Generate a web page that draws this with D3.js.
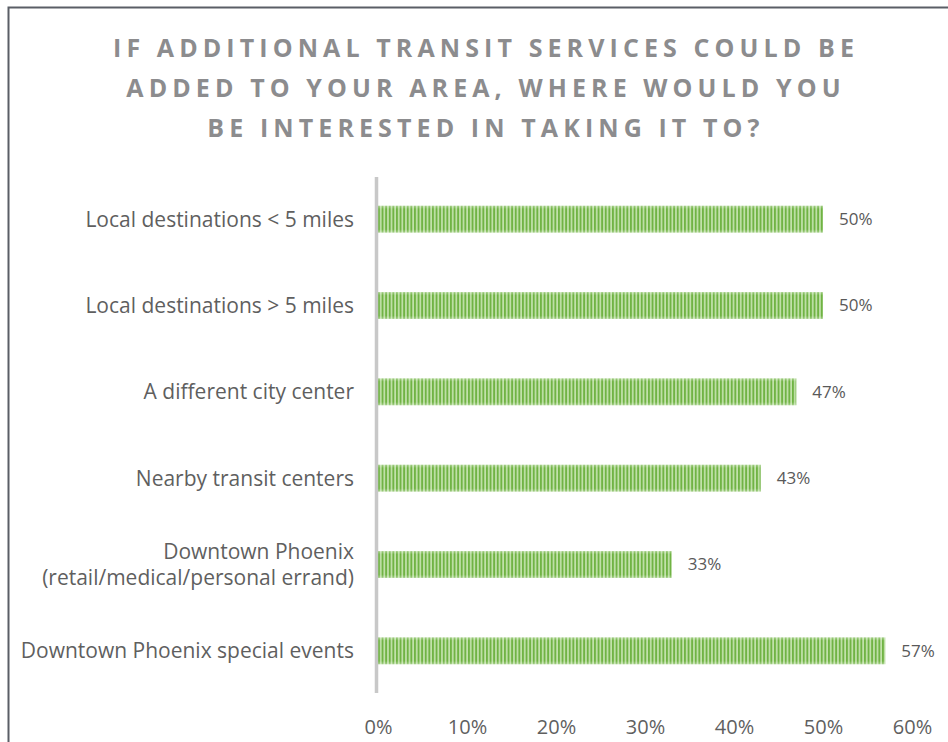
<!DOCTYPE html>
<html>
<head>
<meta charset="utf-8">
<script src="https://cdn.jsdelivr.net/npm/d3@7"></script>
<style>
  body { margin: 0; background: #fff; }
  svg { display: block; }
  text { font-family: "Open Sans", "Liberation Sans", sans-serif; }
</style>
</head>
<body>
<div id="chart"></div>
<script>
// data
const categories = [
  "Local destinations < 5 miles",
  "Local destinations > 5 miles",
  "A different city center",
  "Nearby transit centers",
  "Downtown Phoenix\n(retail/medical/personal errand)",
  "Downtown Phoenix special events"
];
const values = [50, 50, 47, 43, 33, 57];
const tickValues = [0, 10, 20, 30, 40, 50, 60];
const titleLines = [
  "IF ADDITIONAL TRANSIT SERVICES COULD BE",
  "ADDED TO YOUR AREA, WHERE WOULD YOU",
  "BE INTERESTED IN TAKING IT TO?"
];

const W = 948, H = 742;
const svg = d3.select("#chart").append("svg")
  .attr("width", W).attr("height", H);

// frame (only top and left show)
svg.append("path")
  .attr("d", "M8.5," + H + "V7.5H" + W)
  .attr("fill", "none")
  .attr("stroke", "#5a5e66")
  .attr("stroke-width", 2);

// stripe pattern for bars
const defs = svg.append("defs");
const pat = defs.append("pattern")
  .attr("id", "stripes")
  .attr("patternUnits", "userSpaceOnUse")
  .attr("width", 3.6).attr("height", 10);
pat.append("rect").attr("width", 3.6).attr("height", 10).attr("fill", "#c2e2ab");
pat.append("rect").attr("width", 1.9).attr("height", 10).attr("fill", "#70b344");

const grad = defs.append("linearGradient")
  .attr("id", "edge").attr("x1", 0).attr("x2", 0).attr("y1", 0).attr("y2", 1);
grad.append("stop").attr("offset", "0").attr("stop-color", "#fff").attr("stop-opacity", 0.35);
grad.append("stop").attr("offset", "0.12").attr("stop-color", "#fff").attr("stop-opacity", 0);
grad.append("stop").attr("offset", "0.88").attr("stop-color", "#fff").attr("stop-opacity", 0);
grad.append("stop").attr("offset", "1").attr("stop-color", "#fff").attr("stop-opacity", 0.35);

// title
svg.append("g").selectAll("text")
  .data(titleLines)
  .enter().append("text")
  .attr("x", 486)
  .attr("y", (d, i) => 57 + i * 40)
  .attr("text-anchor", "middle")
  .attr("fill", "#8c8c8e")
  .style("font-size", "25px")
  .style("font-weight", "bold")
  .style("letter-spacing", "5.1px")
  .text(d => d);

// scales
const x = d3.scaleLinear().domain([0, 60]).range([378, 912]);
const y = d3.scaleBand().domain(categories).range([176, 694]).paddingInner(0.69).paddingOuter(0.345);

// bars
svg.append("g").selectAll("rect.bar")
  .data(values)
  .enter().append("rect")
  .attr("class", "bar")
  .attr("x", x(0))
  .attr("y", (d, i) => y(categories[i]))
  .attr("width", d => x(d) - x(0))
  .attr("height", y.bandwidth())
  .attr("fill", "url(#stripes)");
svg.append("g").selectAll("rect")
  .data(values)
  .enter().append("rect")
  .attr("x", x(0))
  .attr("y", (d, i) => y(categories[i]))
  .attr("width", d => x(d) - x(0))
  .attr("height", y.bandwidth())
  .attr("fill", "url(#edge)");

// value labels
svg.append("g").selectAll("text")
  .data(values)
  .enter().append("text")
  .attr("x", d => x(d) + 16)
  .attr("y", (d, i) => y(categories[i]) + y.bandwidth() / 2)
  .attr("dy", "0.35em")
  .attr("fill", "#595959")
  .style("font-size", "17px")
  .text(d => d + "%");

// category labels
const catG = svg.append("g").selectAll("text")
  .data(categories)
  .enter().append("text")
  .attr("x", 354)
  .attr("y", d => y(d) + y.bandwidth() / 2)
  .attr("text-anchor", "end")
  .attr("fill", "#5f5f5f")
  .style("font-size", "21px");
catG.each(function(d) {
  const lines = d.split("\n");
  const t = d3.select(this);
  lines.forEach((ln, j) => {
    t.append("tspan")
      .attr("x", 354)
      .attr("dy", j === 0 ? (0.35 - (lines.length - 1) * 0.62) + "em" : "1.24em")
      .text(ln);
  });
});

// x axis labels
const xAxis = d3.axisBottom(x)
  .tickValues(tickValues)
  .tickSize(0)
  .tickPadding(0)
  .tickFormat(d => d + "%");
const ax = svg.append("g")
  .attr("transform", "translate(0,720)")
  .call(xAxis);
ax.select(".domain").remove();
ax.selectAll("text")
  .attr("fill", "#5f5f5f")
  .style("font-size", "20px")
  .style("font-family", "'Open Sans', sans-serif");

// vertical axis line
svg.append("line")
  .attr("x1", x(0) - 1.5).attr("x2", x(0) - 1.5)
  .attr("y1", 177).attr("y2", 693)
  .attr("stroke", "#c8c8c8")
  .attr("stroke-width", 3.5);
</script>
</body>
</html>
